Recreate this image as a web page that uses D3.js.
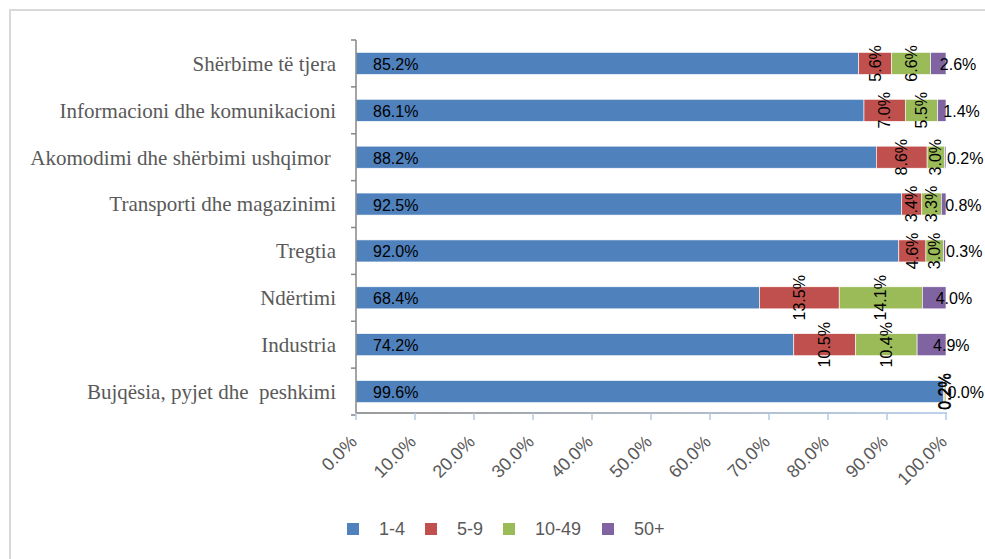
<!DOCTYPE html>
<html>
<head>
<meta charset="utf-8">
<script src="https://cdn.jsdelivr.net/npm/d3@7"></script>
<style>
  body { margin: 0; background: #fff; }
  svg { display: block; }
</style>
</head>
<body>
<div id="chart"></div>
<script>
// --- data ---
const categories = [
  "Shërbime të tjera",
  "Informacioni dhe komunikacioni",
  "Akomodimi dhe shërbimi ushqimor ",
  "Transporti dhe magazinimi",
  "Tregtia",
  "Ndërtimi",
  "Industria",
  "Bujqësia, pyjet dhe  peshkimi"
];
const seriesNames = ["1-4", "5-9", "10-49", "50+"];
const seriesColors = ["#4F81BD", "#C0504D", "#9BBB59", "#8064A2"];
const v1_4   = [85.2, 86.1, 88.2, 92.5, 92.0, 68.4, 74.2, 99.6];
const v5_9   = [5.6, 7.0, 8.6, 3.4, 4.6, 13.5, 10.5, 0.2];
const v10_49 = [6.6, 5.5, 3.0, 3.3, 3.0, 14.1, 10.4, 0.2];
const v50    = [2.6, 1.4, 0.2, 0.8, 0.3, 4.0, 4.9, 0.0];
const xTicks = [0, 10, 20, 30, 40, 50, 60, 70, 80, 90, 100];

const W = 985, H = 559;
const svg = d3.select("#chart").append("svg")
  .attr("width", W).attr("height", H);

// marco del gráfico
svg.append("rect")
  .attr("x", 10).attr("y", 10)
  .attr("width", 1000).attr("height", 600)
  .attr("fill", "#fff")
  .attr("stroke", "#D9D9D9").attr("stroke-width", 2);

const x = d3.scaleLinear().domain([0, 100]).range([356, 946]);
const y = d3.scaleBand().domain(categories).range([40, 415]).paddingInner(0.53).paddingOuter(0.265);
const band = d3.scaleBand().domain(categories).range([40, 415]);

const seriesVals = [v1_4, v5_9, v10_49, v50];
const rows = categories.map((c, i) => {
  let acc = 0;
  return seriesVals.map((vals, s) => {
    const seg = { cat: c, s, v: vals[i], x0: acc, x1: acc + vals[i] };
    acc += vals[i];
    return seg;
  });
});
const segs = rows.flat();

// --- barras ---
svg.append("g")
  .selectAll("rect")
  .data(segs)
  .join("rect")
  .attr("x", d => x(d.x0))
  .attr("y", d => y(d.cat))
  .attr("width", d => Math.max(0, x(d.x1) - x(d.x0)))
  .attr("height", y.bandwidth())
  .attr("fill", d => seriesColors[d.s])
  .attr("stroke", "#fff")
  .attr("stroke-width", 0.6);

// --- eje Y ---
const gy = svg.append("g");
gy.append("line")
  .attr("x1", 356).attr("x2", 356)
  .attr("y1", 40).attr("y2", 413)
  .attr("stroke", "#868686").attr("stroke-width", 1.5);
gy.selectAll("line.tk")
  .data(categories.concat(["__end"]))
  .join("line")
  .attr("class", "tk")
  .attr("x1", 351).attr("x2", 356)
  .attr("y1", (d, i) => 40 + i * band.bandwidth())
  .attr("y2", (d, i) => 40 + i * band.bandwidth())
  .attr("stroke", "#868686").attr("stroke-width", 1.5);
gy.selectAll("text")
  .data(categories)
  .join("text")
  .attr("x", 336)
  .attr("y", d => y(d) + y.bandwidth() / 2)
  .attr("dy", "0.35em")
  .attr("text-anchor", "end")
  .style("white-space", "pre")
  .attr("font-family", "'Liberation Serif', 'Times New Roman', serif")
  .attr("font-size", 21)
  .attr("fill", "#595959")
  .text(d => d);

// --- eje X ---
const defs = svg.append("defs");
const grad = defs.append("linearGradient").attr("id", "axg")
  .attr("x1", "0%").attr("x2", "100%");
grad.append("stop").attr("offset", "0%").attr("stop-color", "#9A9A9A");
grad.append("stop").attr("offset", "100%").attr("stop-color", "#BED2EA");
svg.append("rect")
  .attr("x", 356).attr("y", 412)
  .attr("width", 591).attr("height", 2)
  .attr("fill", "url(#axg)");
svg.append("g")
  .selectAll("line")
  .data(xTicks)
  .join("line")
  .attr("x1", d => x(d)).attr("x2", d => x(d))
  .attr("y1", 413).attr("y2", 420)
  .attr("stroke", "#B4C8E2").attr("stroke-width", 1.5);
svg.append("g")
  .selectAll("text")
  .data(xTicks)
  .join("text")
  .attr("transform", d => `translate(${x(d) + 2},443) rotate(-45)`)
  .attr("text-anchor", "end")
  .attr("font-family", "'Liberation Sans', Arial, sans-serif")
  .attr("font-size", 18)
  .attr("fill", "#595959")
  .text(d => d.toFixed(1) + "%");

// --- etiquetas de datos ---
const lbl = svg.append("g")
  .attr("font-family", "'Liberation Sans', Arial, sans-serif")
  .attr("font-size", 16)
  .attr("fill", "#000");
const cy = d => y(d.cat) + y.bandwidth() / 2;
lbl.selectAll("text.a")
  .data(segs.filter(d => d.s === 0))
  .join("text").attr("class", "a")
  .attr("x", d => x(d.x0) + 17)
  .attr("y", d => cy(d) + 1)
  .attr("dominant-baseline", "central")
  .text(d => d.v.toFixed(1) + "%");
lbl.selectAll("text.r")
  .data(segs.filter(d => d.s === 1 || d.s === 2))
  .join("text").attr("class", "r")
  .attr("transform", d => `translate(${x((d.x0 + d.x1) / 2)},${cy(d)}) rotate(-90)`)
  .attr("text-anchor", "middle")
  .attr("dominant-baseline", "central")
  .text(d => d.v.toFixed(1) + "%");
lbl.selectAll("text.p")
  .data(segs.filter(d => d.s === 3))
  .join("text").attr("class", "p")
  .attr("x", d => x((d.x0 + d.x1) / 2) + 1.5)
  .attr("y", d => cy(d) + 1)
  .attr("dominant-baseline", "central")
  .text(d => d.v.toFixed(1) + "%");

// --- leyenda ---
const legX = [347, 425, 503, 602];
const leg = svg.append("g").selectAll("g")
  .data(seriesNames)
  .join("g")
  .attr("transform", (d, i) => `translate(${legX[i]},523)`);
leg.append("rect")
  .attr("width", 12).attr("height", 12)
  .attr("fill", (d, i) => seriesColors[i]);
leg.append("text")
  .attr("x", 32).attr("y", 6)
  .attr("dominant-baseline", "central")
  .attr("font-family", "'Liberation Sans', Arial, sans-serif")
  .attr("font-size", 18)
  .attr("fill", "#595959")
  .text(d => d);
</script>
</body>
</html>
